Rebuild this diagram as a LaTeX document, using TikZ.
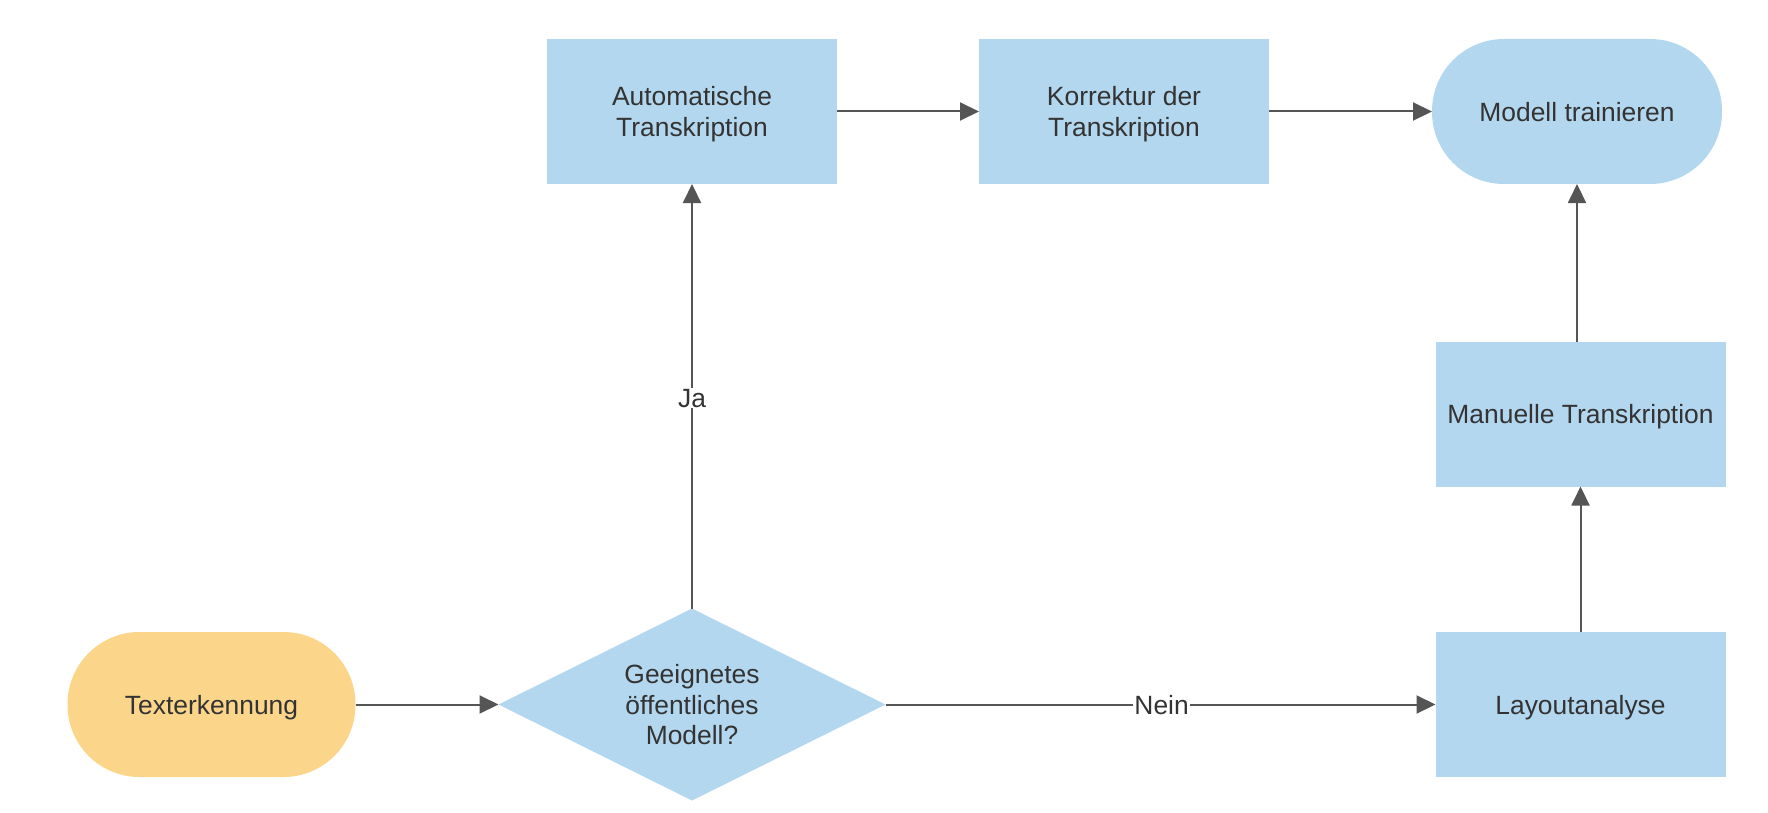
\documentclass[tikz,border=0pt]{standalone}
\usepackage{fontspec}
\setmainfont{Liberation Sans}
\usetikzlibrary{shapes.geometric,arrows.meta}
\definecolor{boxblue}{HTML}{B3D7EE}
\definecolor{boxorange}{HTML}{FAD58A}
\definecolor{txt}{HTML}{333333}
\definecolor{linec}{HTML}{555555}
\tikzset{
  base/.style={inner sep=0pt, outer sep=0pt, align=center, text=txt, text depth=0pt,
    font=\fontsize{26.4}{30.5}\selectfont},
  procbox/.style={base, rectangle, fill=boxblue, minimum width=290pt, minimum height=145pt},
  termblue/.style={base, rectangle, rounded corners=72pt, fill=boxblue, minimum width=290pt, minimum height=145pt},
  termorange/.style={base, rectangle, rounded corners=72pt, fill=boxorange, minimum width=288pt, minimum height=145pt},
  decision/.style={base, diamond, aspect=2, fill=boxblue, minimum width=387pt, minimum height=192pt},
  arr/.style={draw=linec, line width=2pt, -{Triangle[length=19pt,width=18pt]}},
  lbl/.style={base, fill=white, inner sep=1pt}
}
\begin{document}
\begin{tikzpicture}[x=1pt,y=-1pt]
\useasboundingbox (0,0) rectangle (1768,813);
\node[termorange] (texter) at (211.5,704.5) {Texterkennung};
\node[decision] (dec) at (692,704.5) {Geeignetes\\öffentliches\\Modell?};
\node[procbox] (auto) at (692,111.5) {Automatische\\Transkription};
\node[procbox] (korr) at (1124,111.5) {Korrektur der\\Transkription};
\node[termblue] (model) at (1577,111.5) {Modell trainieren};
\node[procbox] (manu) at (1580.5,414) {Manuelle Transkription};
\node[procbox] (layout) at (1580.5,704.5) {Layoutanalyse};

\draw[arr] (texter.east) -- (dec.west);
\draw[arr] (dec.north) -- node[lbl, pos=0.496] (ja) {Ja} (auto.south);
\draw[arr] (dec.east) -- node[lbl, pos=0.502] (nein) {Nein} (layout.west);
\draw[arr] (layout.north) -- (manu.south);
\draw[arr] (manu.north -| model.south) -- (model.south);
\draw[arr] (auto.east) -- (korr.west);
\draw[arr] (korr.east) -- (model.west);
\end{tikzpicture}
\end{document}
